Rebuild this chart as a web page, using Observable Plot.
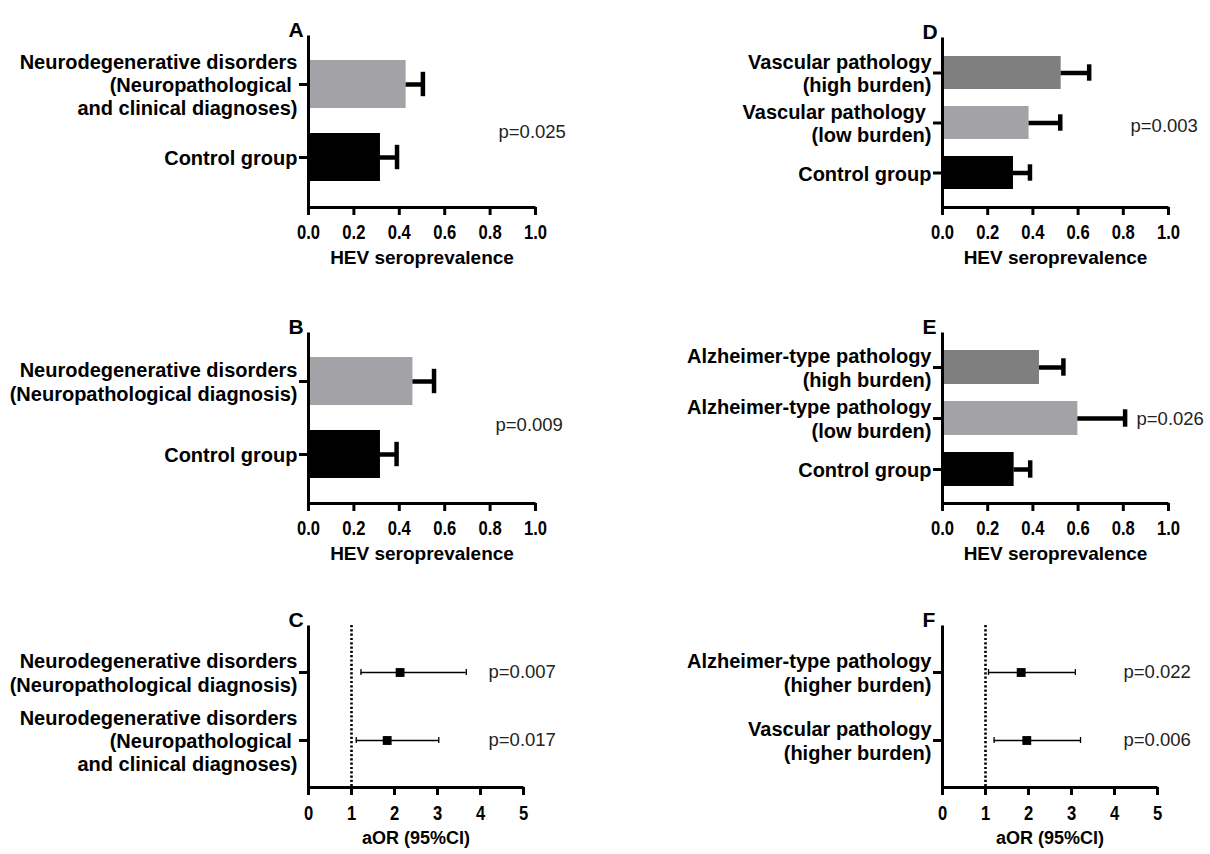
<!DOCTYPE html>
<html>
<head>
<meta charset="utf-8">
<script src="https://cdn.jsdelivr.net/npm/d3@7"></script>
<script src="https://cdn.jsdelivr.net/npm/@observablehq/plot@0.6"></script>
<style>
  body { margin: 0; background: #fff; }
  #fig { position: relative; width: 1210px; height: 854px; overflow: hidden; background: #fff; }
  #fig svg { position: absolute; overflow: visible; }
  g[aria-label="axis title"] text { letter-spacing: 1.3px; }
  g[aria-label="p value"] text { letter-spacing: 0.5px; }
</style>
</head>
<body>
<div id="fig"></div>
<script>
// ---------------- DATA ----------------
const barTicks = [0, 0.2, 0.4, 0.6, 0.8, 1.0];
const orTicks = [0, 1, 2, 3, 4, 5];
const barTitle = "HEV seroprevalence";
const orTitle = "aOR (95%CI)";

// Panel A
const aGroups = ["Neurodegenerative disorders\n(Neuropathological\u00a0\nand clinical diagnoses)", "Control group"];
const aLevels = ["disease", "control"];
const aValues = [0.43, 0.317];
const aUpper = [0.504, 0.39];
const aP = "p=0.025";

// Panel B
const bGroups = ["Neurodegenerative disorders\n(Neuropathological diagnosis)", "Control group"];
const bLevels = ["disease", "control"];
const bValues = [0.46, 0.317];
const bUpper = [0.553, 0.388];
const bP = "p=0.009";

// Panel C (forest)
const cGroups = ["Neurodegenerative disorders\n(Neuropathological diagnosis)", "Neurodegenerative disorders\n(Neuropathological\u00a0\nand clinical diagnoses)"];
const cOR = [2.13, 1.83];
const cLow = [1.22, 1.11];
const cHigh = [3.67, 3.03];
const cP = ["p=0.007", "p=0.017"];

// Panel D
const dGroups = ["Vascular pathology\n(high burden)", "Vascular pathology\u00a0\n(low burden)", "Control group"];
const dLevels = ["high", "low", "control"];
const dValues = [0.525, 0.383, 0.314];
const dUpper = [0.649, 0.521, 0.387];
const dP = "p=0.003";

// Panel E
const eGroups = ["Alzheimer-type pathology\n(high burden)", "Alzheimer-type pathology\n(low burden)", "Control group"];
const eLevels = ["high", "low", "control"];
const eValues = [0.429, 0.599, 0.317];
const eUpper = [0.535, 0.808, 0.388];
const eP = "p=0.026";

// Panel F (forest)
const fGroups = ["Alzheimer-type pathology\n(higher burden)", "Vascular pathology\n(higher burden)"];
const fOR = [1.83, 1.96];
const fLow = [1.07, 1.20];
const fHigh = [3.09, 3.21];
const fP = ["p=0.022", "p=0.006"];

// ---------------- STYLE ----------------
const fillByLevel = {disease: "#a3a3a7", low: "#a3a3a7", high: "#7f7f7f", control: "#000000"};
const FONT = "'Liberation Sans', Arial, Helvetica, sans-serif";
const baseStyle = {fontFamily: FONT, fontSize: "20px", color: "#000", background: "transparent", overflow: "visible"};
const fig = document.getElementById("fig");

function commonMarks(o, w, h, ticks, fmt, title) {
  return [
    Plot.frame({stroke: "#000", strokeWidth: 3, strokeDasharray: `0 ${w + h} ${w + h}`}),
    Plot.axisY({tickSize: 9, strokeWidth: 3, tickFormat: () => "", label: null}),
    Plot.text(o.groups, {y: d => d, text: d => d, frameAnchor: "left", textAnchor: "end", dx: -11,
      lineHeight: 1.17, fontSize: 20, fontWeight: "bold", fill: "#000"}),
    Plot.axisX(ticks, {tickSize: 8, tickPadding: o.tickPad, strokeWidth: 3, tickFormat: fmt,
      fontSize: 20, fontWeight: "bold", label: null}),
    Plot.text([title], {text: d => d, frameAnchor: "bottom", dy: o.titleDy, fontSize: o.titleSize,
      fontWeight: "bold", ariaLabel: "axis title"}),
    Plot.text([o.letter], {text: d => d, frameAnchor: "top-left", dx: -20, dy: -13, fontSize: 21, fontWeight: "bold"})
  ];
}

// horizontally condense the x tick labels around their own anchor (keeps Plot's positioning intact)
function condense(svg, k) {
  svg.querySelectorAll('g[aria-label="x-axis tick label"] text').forEach(t => {
    const tr = t.getAttribute("transform") || "";
    const x = parseFloat(t.getAttribute("x")) || 0;
    const y = parseFloat(t.getAttribute("y")) || 0;
    t.setAttribute("transform", `${tr} translate(${x},${y}) scale(${k},1) translate(${-x},${-y})`.trim());
  });
}

function place(svg, left, top) {
  svg.style.left = left + "px";
  svg.style.top = top + "px";
  fig.appendChild(svg);
}

function barPanel(o) {
  const data = o.groups.map((g, i) => ({group: g, level: o.levels[i], value: o.values[i], upper: o.upper[i]}));
  const w = o.width - o.ml - o.mr, h = o.height - o.mt - o.mb;
  const svg = Plot.plot({
    width: o.width, height: o.height,
    marginTop: o.mt, marginBottom: o.mb, marginLeft: o.ml, marginRight: o.mr,
    style: baseStyle,
    x: {domain: [0, 1], label: null},
    y: {domain: o.groups, paddingInner: 0.34, paddingOuter: 0.34, label: null},
    color: {domain: Object.keys(fillByLevel), range: Object.values(fillByLevel)},
    marks: [
      Plot.barX(data, {x: "value", y: "group", fill: "level"}),
      Plot.ruleY(data, {x1: "value", x2: "upper", y: "group", stroke: "#000", strokeWidth: 4.5}),
      Plot.tickX(data, {x: "upper", y: "group", stroke: "#000", strokeWidth: 4.5, insetTop: o.capInset, insetBottom: o.capInset}),
      ...commonMarks(o, w, h, barTicks, d3.format(".1f"), barTitle),
      Plot.text([o.p], {text: d => d, frameAnchor: "right", textAnchor: "start", dx: o.pDx, dy: o.pDy,
        fontSize: 18.5, fill: "#222", ariaLabel: "p value"})
    ]
  });
  condense(svg, 0.83);
  place(svg, o.left, o.top);
}

function forestPanel(o) {
  const data = o.groups.map((g, i) => ({group: g, or: o.or[i], lo: o.lo[i], hi: o.hi[i], p: o.p[i]}));
  const w = o.width - o.ml - o.mr, h = o.height - o.mt - o.mb;
  const svg = Plot.plot({
    width: o.width, height: o.height,
    marginTop: o.mt, marginBottom: o.mb, marginLeft: o.ml, marginRight: o.mr,
    style: baseStyle,
    x: {domain: [0, 5], label: null},
    y: {type: "band", domain: o.groups, paddingInner: 0, paddingOuter: 0.174, label: null},
    marks: [
      Plot.ruleX([1], {stroke: "#000", strokeWidth: 2.6, strokeDasharray: "2.2 2.1"}),
      Plot.ruleY(data, {x1: "lo", x2: "hi", y: "group", stroke: "#000", strokeWidth: 1.3}),
      Plot.tickX(data, {x: "lo", y: "group", stroke: "#000", strokeWidth: 1.3, insetTop: o.capInset, insetBottom: o.capInset}),
      Plot.tickX(data, {x: "hi", y: "group", stroke: "#000", strokeWidth: 1.3, insetTop: o.capInset, insetBottom: o.capInset}),
      Plot.dot(data, {x: "or", y: "group", symbol: "square", r: 5, fill: "#000", stroke: "none"}),
      ...commonMarks(o, w, h, orTicks, d3.format("d"), orTitle),
      Plot.text(data, {y: "group", text: "p", frameAnchor: "right", textAnchor: "start", dx: o.pDx,
        fontSize: 18.5, fill: "#222", ariaLabel: "p value"})
    ]
  });
  condense(svg, 0.83);
  place(svg, o.left, o.top);
}

// ---------------- PANELS ----------------
barPanel({letter: "A", groups: aGroups, levels: aLevels, values: aValues, upper: aUpper, p: aP,
  left: 0, top: 0, width: 605, height: 290, mt: 35, mb: 83, ml: 308, mr: 70,
  capInset: 11.8, tickPad: 9, titleDy: 56, titleSize: 19, pDx: -37, pDy: 11});

barPanel({letter: "B", groups: bGroups, levels: bLevels, values: bValues, upper: bUpper, p: bP,
  left: 0, top: 290, width: 605, height: 290, mt: 42, mb: 77, ml: 308, mr: 70,
  capInset: 11.8, tickPad: 9, titleDy: 56, titleSize: 19, pDx: -40, pDy: 7.5});

forestPanel({letter: "C", groups: cGroups, or: cOR, lo: cLow, hi: cHigh, p: cP,
  left: 0, top: 580, width: 605, height: 274, mt: 45, mb: 67, ml: 308, mr: 82,
  capInset: 31, tickPad: 10, titleDy: 56, titleSize: 18, pDx: -35});

barPanel({letter: "D", groups: dGroups, levels: dLevels, values: dValues, upper: dUpper, p: dP,
  left: 605, top: 0, width: 605, height: 290, mt: 37, mb: 83, ml: 337, mr: 42,
  capInset: 8.3, tickPad: 9, titleDy: 56, titleSize: 19, pDx: -38, pDy: 4});

barPanel({letter: "E", groups: eGroups, levels: eLevels, values: eValues, upper: eUpper, p: eP,
  left: 605, top: 290, width: 605, height: 290, mt: 42, mb: 77, ml: 337, mr: 42,
  capInset: 8.3, tickPad: 9, titleDy: 56, titleSize: 19, pDx: -32, pDy: 1.5});

forestPanel({letter: "F", groups: fGroups, or: fOR, lo: fLow, hi: fHigh, p: fP,
  left: 605, top: 580, width: 605, height: 274, mt: 45, mb: 67, ml: 337, mr: 53,
  capInset: 31, tickPad: 10, titleDy: 56, titleSize: 18, pDx: -34});
</script>
</body>
</html>
